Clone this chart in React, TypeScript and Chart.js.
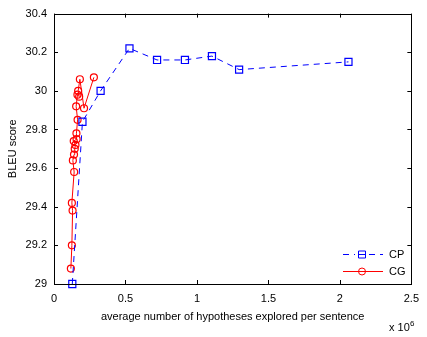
import React, { useEffect, useRef } from "react";
import { Chart, registerables } from "chart.js";

Chart.register(...registerables);

// x values in units of 10^6 hypotheses per sentence
const cpX = [0.128, 0.199, 0.326, 0.528, 0.721, 0.916, 1.105, 1.295, 2.06];
const cpY = [29.0, 29.84, 30.0, 30.22, 30.16, 30.16, 30.18, 30.11, 30.15];
const cgX = [0.118, 0.125, 0.13, 0.125, 0.141, 0.132, 0.14, 0.145, 0.15, 0.138, 0.158, 0.157, 0.165, 0.155, 0.164, 0.176, 0.169, 0.181, 0.21, 0.279];
const cgY = [29.08, 29.2, 29.38, 29.42, 29.58, 29.64, 29.67, 29.7, 29.72, 29.74, 29.75, 29.78, 29.85, 29.92, 29.98, 29.97, 30.0, 30.06, 29.91, 30.07];
const xTicks = [0, 0.5, 1, 1.5, 2, 2.5];
const yTicks = [29, 29.2, 29.4, 29.6, 29.8, 30, 30.2, 30.4];
const seriesNames = ["CP", "CG"];
const xTitle = "average number of hypotheses explored per sentence";
const yTitle = "BLEU score";

const FONT = "Liberation Sans, Arial, sans-serif";

const framePlugin = {
  id: "frame",
  afterDraw(chart: any) {
    const { ctx, chartArea: a, scales } = chart;
    const xs = scales.x;
    const ys = scales.y;
    ctx.save();
    ctx.strokeStyle = "#000";
    ctx.lineWidth = 1;
    // ticks inward
    ctx.beginPath();
    const tl = 4;
    xTicks.forEach((v) => {
      const px = Math.round(xs.getPixelForValue(v)) + 0.5;
      ctx.moveTo(px, a.bottom);
      ctx.lineTo(px, a.bottom - tl);
      ctx.moveTo(px, a.top);
      ctx.lineTo(px, a.top + tl);
    });
    yTicks.forEach((v) => {
      const py = Math.round(ys.getPixelForValue(v)) + 0.5;
      ctx.moveTo(a.left, py);
      ctx.lineTo(a.left + tl, py);
      ctx.moveTo(a.right, py);
      ctx.lineTo(a.right - tl, py);
    });
    ctx.stroke();
    // frame
    ctx.strokeRect(Math.round(a.left) + 0.5, Math.round(a.top) + 0.5, Math.round(a.right - a.left), Math.round(a.bottom - a.top));

    // axis titles
    ctx.fillStyle = "#000";
    ctx.font = `11px ${FONT}`;
    ctx.textAlign = "center";
    ctx.textBaseline = "middle";
    ctx.fillText(xTitle, (a.left + a.right) / 2, 317);
    ctx.save();
    ctx.translate(13, (a.top + a.bottom) / 2);
    ctx.rotate(-Math.PI / 2);
    ctx.fillText(yTitle, 0, 0);
    ctx.restore();
    // x 10^6
    ctx.textAlign = "left";
    ctx.fillText("x 10", 389, 328);
    ctx.font = `8px ${FONT}`;
    ctx.fillText("6", 410, 324);

    // legend
    const lx0 = 343, lx1 = 383, mx = 362;
    const rows = [
      { y: 254, color: "#0000ff", dash: [6, 5], style: "rect", label: seriesNames[0] },
      { y: 271, color: "#ff0000", dash: [], style: "circle", label: seriesNames[1] },
    ];
    rows.forEach((r) => {
      ctx.strokeStyle = r.color;
      ctx.lineWidth = 1;
      ctx.setLineDash(r.dash);
      ctx.beginPath();
      if (r.dash.length) {
        ctx.moveTo(lx0, r.y + 0.5);
        ctx.lineTo(mx - 7, r.y + 0.5);
        ctx.moveTo(mx + 7, r.y + 0.5);
        ctx.lineTo(lx1, r.y + 0.5);
      } else {
        ctx.moveTo(lx0, r.y + 0.5);
        ctx.lineTo(lx1, r.y + 0.5);
      }
      ctx.stroke();
      ctx.setLineDash([]);
      ctx.beginPath();
      if (r.style === "rect") {
        ctx.rect(mx - 3.5, r.y - 3, 7, 7);
        ctx.moveTo(mx - 3.5, r.y + 0.5);
        ctx.lineTo(mx + 3.5, r.y + 0.5);
      } else {
        ctx.arc(mx, r.y + 0.5, 3.5, 0, Math.PI * 2);
      }
      ctx.stroke();
      ctx.fillStyle = "#000";
      ctx.font = `11px ${FONT}`;
      ctx.textAlign = "left";
      ctx.textBaseline = "middle";
      ctx.fillText(r.label, 389, r.y + 1);
    });
    ctx.restore();
  },
};

export default function App() {
  const ref = useRef<HTMLCanvasElement>(null);
  useEffect(() => {
    const cpData = cpX.map((x, i) => ({ x, y: cpY[i] }));
    const cgData = cgX.map((x, i) => ({ x, y: cgY[i] }));
    const chart = new Chart(ref.current as HTMLCanvasElement, {
      type: "scatter",
      data: {
        datasets: [
          {
            label: seriesNames[0],
            data: cpData,
            showLine: true,
            borderColor: "#0000ff",
            backgroundColor: "rgba(0,0,0,0)",
            borderWidth: 1,
            borderDash: [6, 5],
            pointStyle: "rect",
            pointRadius: 5,
            pointBorderWidth: 1.2,
            pointBorderColor: "#0000ff",
            pointBackgroundColor: "rgba(0,0,0,0)",
            clip: false,
          } as any,
          {
            label: seriesNames[1],
            data: cgData,
            showLine: true,
            borderColor: "#ff0000",
            backgroundColor: "rgba(0,0,0,0)",
            borderWidth: 1,
            pointStyle: "circle",
            pointRadius: 3.5,
            pointBorderWidth: 1.2,
            pointBorderColor: "#ff0000",
            pointBackgroundColor: "rgba(0,0,0,0)",
            clip: false,
          } as any,
        ],
      },
      options: {
        animation: false,
        responsive: false,
        maintainAspectRatio: false,
        layout: { padding: { top: 10, right: 10, left: 0, bottom: 0 } },
        plugins: { legend: { display: false }, tooltip: { enabled: false } },
        scales: {
          x: {
            type: "linear",
            min: 0,
            max: 2.5,
            grid: { display: false, drawTicks: false },
            border: { display: false },
            afterFit: (s: any) => {
              s.height = 53;
            },
            afterBuildTicks: (s: any) => {
              s.ticks = xTicks.map((v) => ({ value: v }));
            },
            ticks: {
              padding: 8,
              color: "#000",
              font: { family: FONT, size: 11 },
              callback: (v: any) => String(Math.round(Number(v) * 10) / 10),
              maxRotation: 0,
            },
          },
          y: {
            type: "linear",
            min: 29,
            max: 30.4,
            grid: { display: false, drawTicks: false },
            border: { display: false },
            afterFit: (s: any) => {
              s.width = 54;
            },
            afterBuildTicks: (s: any) => {
              s.ticks = yTicks.map((v) => ({ value: v }));
            },
            ticks: {
              padding: 7,
              color: "#000",
              font: { family: FONT, size: 11 },
              callback: (v: any) => String(Math.round(Number(v) * 10) / 10),
            },
          },
        },
      },
      plugins: [framePlugin],
    });
    return () => chart.destroy();
  }, []);
  return (
    <div style={{ position: "fixed", left: 0, top: 0, width: 427, height: 337, background: "#fff" }}>
      <canvas ref={ref} width={427} height={337} style={{ width: 427, height: 337, display: "block" }} />
    </div>
  );
}
